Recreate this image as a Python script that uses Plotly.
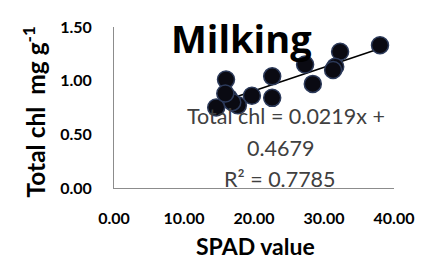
import plotly.graph_objects as go

spad = [16.0, 22.6, 16.4, 19.7, 22.6, 14.6, 17.7, 16.9, 15.9, 38.0, 32.3, 27.3, 31.6, 31.3, 28.4]
chl = [1.01, 1.04, 0.84, 0.86, 0.84, 0.75, 0.77, 0.80, 0.88, 1.33, 1.27, 1.15, 1.13, 1.10, 0.97]
slope = 0.0219
intercept = 0.4679
x_ticks = [0, 10, 20, 30, 40]
y_ticks = [0, 0.5, 1.0, 1.5]

FONT = "Lato"
fig = go.Figure()
xl = [min(spad), max(spad)]
fig.add_trace(go.Scatter(x=xl, y=[slope * v + intercept for v in xl], mode="lines",
                         line=dict(color="black", width=1.5), hoverinfo="skip", showlegend=False))
fig.add_trace(go.Scatter(x=spad, y=chl, mode="markers",
                         marker=dict(size=17, color="#0a0a12", line=dict(color="#2c3a5a", width=1.5)),
                         showlegend=False))

# page body has an 8px default margin, so the figure is laid out 8px up/left
fig.update_layout(
    width=439, height=267,
    margin=dict(l=106, r=53, t=9, b=87),
    paper_bgcolor="white", plot_bgcolor="white",
    font=dict(family=FONT, color="black"),
    xaxis=dict(range=[0, 40], tickvals=x_ticks, ticktext=[f"{v:.2f}" for v in x_ticks],
               showgrid=False, zeroline=False, showline=True, linecolor="#8c8c8c", linewidth=1,
               ticks="outside", ticklen=16, tickcolor="rgba(0,0,0,0)", ticklabeloverflow="allow",
               tickfont=dict(family=FONT, size=16, color="black", weight="bold")),
    yaxis=dict(range=[0, 1.5], tickvals=y_ticks, ticktext=[f"{v:.2f}" for v in y_ticks],
               showgrid=False, zeroline=False, showline=True, linecolor="#8c8c8c", linewidth=1,
               ticks="outside", ticklen=18, tickcolor="rgba(0,0,0,0)", ticklabeloverflow="allow",
               tickfont=dict(family=FONT, size=16, color="black", weight="bold")),
)

ann = [
    dict(text="<b>Milking</b>", x=0.454, y=0.93, font=dict(family="Open Sans", size=38, color="black")),
    dict(text="Total chl = 0.0219x +", x=0.614, y=0.45, font=dict(size=21.5, color="#404040")),
    dict(text="0.4679", x=0.596, y=0.251, font=dict(size=21.5, color="#404040")),
    dict(text="R² = 0.7785", x=0.593, y=0.058, font=dict(size=21.5, color="#404040")),
    dict(text="<b>SPAD value</b>", x=0.504, y=-0.363, font=dict(size=23, color="black")),
    dict(text="<b>Total chl  mg g<sup>-1</sup></b>", x=-0.285, y=0.47, textangle=-90,
         font=dict(size=24.5, color="black")),
]
for a in ann:
    fig.add_annotation(xref="paper", yref="paper", showarrow=False, xanchor="center", yanchor="middle", **a)

fig.write_html("out.html", config={"displayModeBar": False})
